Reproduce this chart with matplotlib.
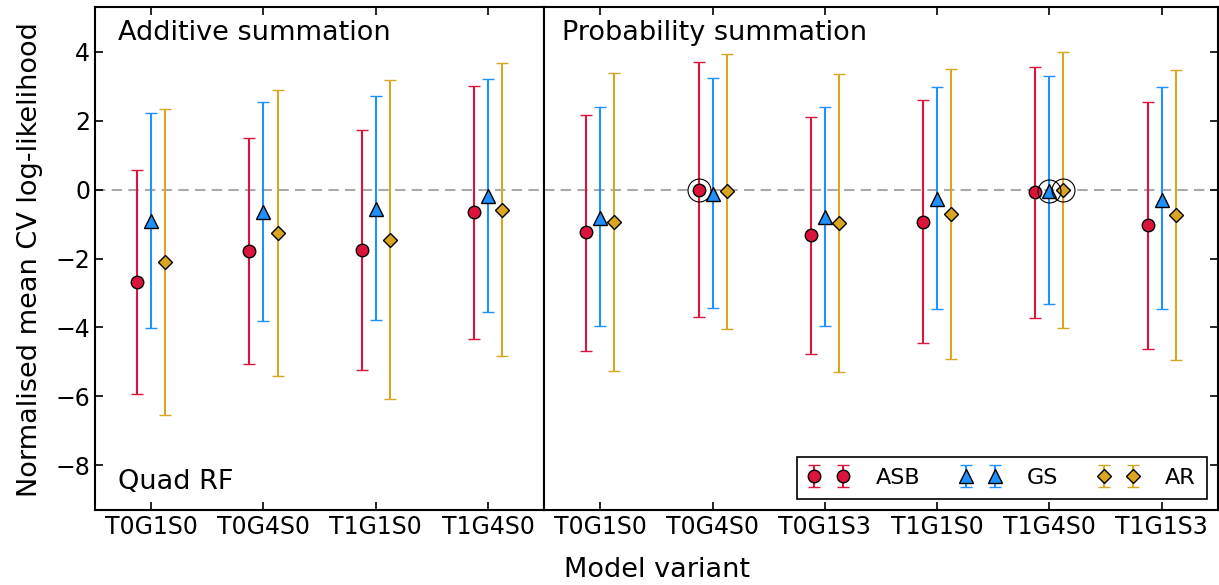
import matplotlib.pyplot as plt
import numpy as np

# 模型名称
add_models = ['T0G1S0', 'T0G4S0', 'T1G1S0', 'T1G4S0']
prob_models = ['T0G1S0', 'T0G4S0', 'T0G1S3', 'T1G1S0', 'T1G4S0', 'T1G1S3']

# 加性求和: 均值, 下限, 上限
add_asb_mean = [-2.69, -1.79, -1.74, -0.66]
add_asb_lo = [-5.94, -5.06, -5.22, -4.32]
add_asb_hi = [0.56, 1.50, 1.74, 3.00]
add_gs_mean = [-0.90, -0.66, -0.56, -0.19]
add_gs_lo = [-4.01, -3.80, -3.79, -3.55]
add_gs_hi = [2.22, 2.55, 2.72, 3.22]
add_ar_mean = [-2.10, -1.26, -1.47, -0.58]
add_ar_lo = [-6.55, -5.41, -6.08, -4.84]
add_ar_hi = [2.34, 2.90, 3.17, 3.67]

# 概率求和
prob_asb_mean = [-1.24, 0.00, -1.33, -0.94, -0.08, -1.03]
prob_asb_lo = [-4.67, -3.71, -4.78, -4.46, -3.73, -4.62]
prob_asb_hi = [2.17, 3.69, 2.11, 2.59, 3.56, 2.54]
prob_gs_mean = [-0.82, -0.12, -0.80, -0.27, -0.03, -0.29]
prob_gs_lo = [-3.97, -3.44, -3.97, -3.45, -3.33, -3.45]
prob_gs_hi = [2.39, 3.24, 2.39, 2.97, 3.31, 2.97]
prob_ar_mean = [-0.94, -0.05, -0.97, -0.70, 0.00, -0.74]
prob_ar_lo = [-5.27, -4.05, -5.28, -4.90, -4.01, -4.95]
prob_ar_hi = [3.38, 3.93, 3.35, 3.50, 3.99, 3.46]

# 最优模型 (画圈)
best_prob = [('ASB', 1), ('GS', 4), ('AR', 4)]

names = ['ASB', 'GS', 'AR']
colors = {'ASB': '#DC143C', 'GS': '#1E90FF', 'AR': '#DAA520'}
marks = {'ASB': ('o', 9), 'GS': ('^', 10), 'AR': ('D', 7.5)}
offsets = {'ASB': -0.125, 'GS': 0.0, 'AR': 0.125}

plt.rcParams['font.family'] = 'DejaVu Sans'

fig = plt.figure(figsize=(12.19, 5.85), dpi=100)
gs = fig.add_gridspec(1, 2, width_ratios=[4, 6], wspace=0,
                      left=0.078, right=0.999, top=0.988, bottom=0.128)
ax1 = fig.add_subplot(gs[0])
ax2 = fig.add_subplot(gs[1], sharey=ax1)


def draw(ax, models, data):
    x = np.arange(len(models))
    handles = []
    for nm in names:
        m, lo, hi = [np.array(v) for v in data[nm]]
        mk, ms = marks[nm]
        h = ax.errorbar(x + offsets[nm], m, yerr=[m - lo, hi - m],
                        fmt=mk, ms=ms, color=colors[nm], mfc=colors[nm],
                        mec='k', mew=1, ecolor=colors[nm], elinewidth=1.5,
                        capsize=4.3, capthick=1.5, label=nm, zorder=3)
        handles.append(h)
    ax.axhline(0, color='#aaaaaa', lw=1.5, ls=(0, (5, 3)), zorder=1)
    ax.set_xticks(x)
    ax.set_xticklabels(models, fontsize=17)
    ax.set_xlim(-0.5, len(models) - 0.5)
    for s in ax.spines.values():
        s.set_linewidth(1.5)
    ax.tick_params(direction='in', length=5.5, width=1.2, labelsize=17, top=True)
    return x, handles


add_data = {'ASB': (add_asb_mean, add_asb_lo, add_asb_hi),
            'GS': (add_gs_mean, add_gs_lo, add_gs_hi),
            'AR': (add_ar_mean, add_ar_lo, add_ar_hi)}
prob_data = {'ASB': (prob_asb_mean, prob_asb_lo, prob_asb_hi),
             'GS': (prob_gs_mean, prob_gs_lo, prob_gs_hi),
             'AR': (prob_ar_mean, prob_ar_lo, prob_ar_hi)}

draw(ax1, add_models, add_data)
x2, handles = draw(ax2, prob_models, prob_data)

# 最优模型加圈
for nm, i in best_prob:
    ax2.plot(x2[i] + offsets[nm], prob_data[nm][0][i], 'o', ms=16.5,
             mfc='none', mec='k', mew=0.8, zorder=4)

ax1.set_ylim(-9.3, 5.3)
ax1.set_yticks([-8, -6, -4, -2, 0, 2, 4])
ax1.tick_params(axis='y', right=False)
ax2.tick_params(axis='y', left=False, right=True, labelleft=False)

ax1.text(0.051, 0.948, 'Additive summation', transform=ax1.transAxes,
         fontsize=19.5, va='center', ha='left')
ax1.text(0.051, 0.056, 'Quad RF', transform=ax1.transAxes,
         fontsize=19.5, va='center', ha='left')
ax2.text(0.027, 0.948, 'Probability summation', transform=ax2.transAxes,
         fontsize=19.5, va='center', ha='left')

leg = ax2.legend(handles=handles, loc='lower right', ncol=3, numpoints=2,
                 fontsize=16, fancybox=False, framealpha=1, edgecolor='k',
                 handlelength=1.9, columnspacing=1.75, borderaxespad=0.5,
                 handletextpad=1.15, borderpad=0.5)
leg.get_frame().set_linewidth(1.2)

fig.text(0.025, 0.557, 'Normalised mean CV log-likelihood', rotation=90,
         fontsize=19.5, ha='center', va='center')
fig.text(0.539, 0.025, 'Model variant', fontsize=19.5, ha='center', va='center')

plt.savefig('out.png', dpi=100)
